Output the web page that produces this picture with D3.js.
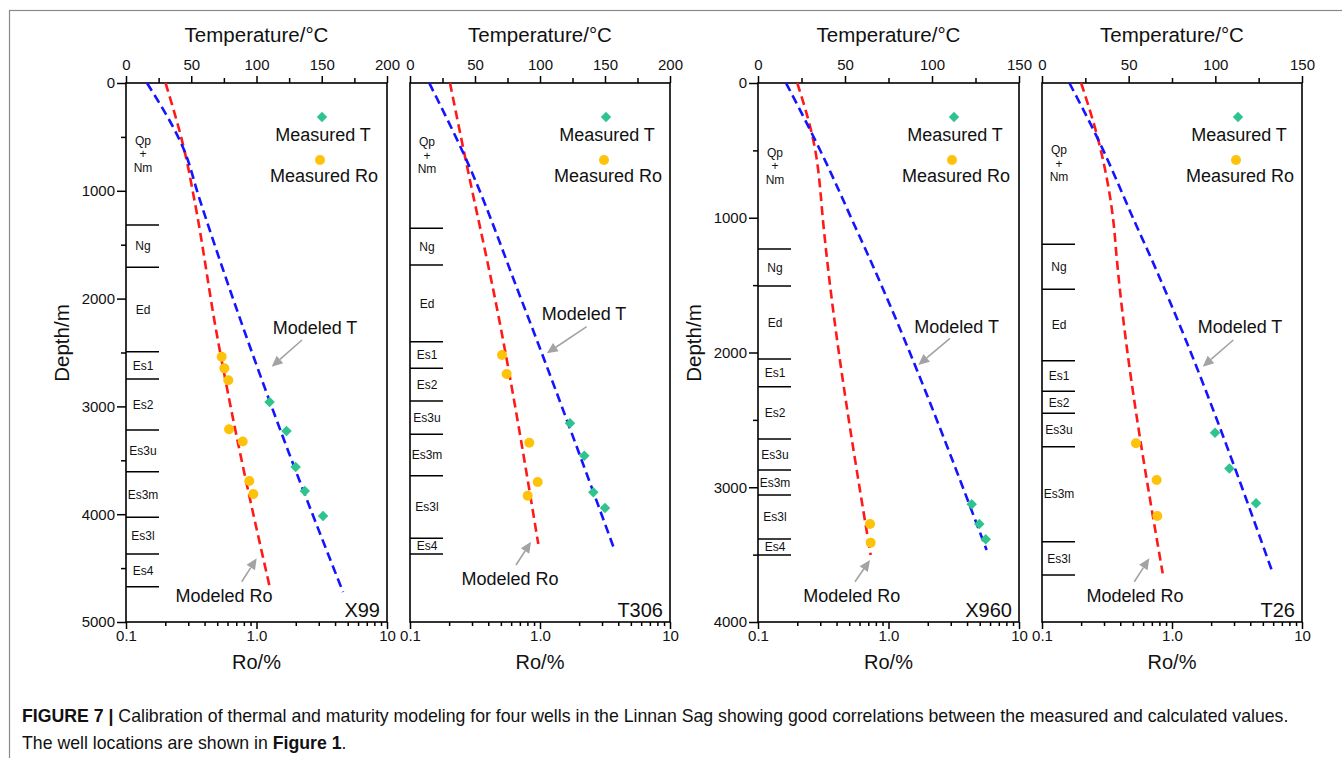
<!DOCTYPE html>
<html>
<head>
<meta charset="utf-8">
<script src="https://cdn.jsdelivr.net/npm/d3@7"></script>
<style>
body { margin: 0; background: #fff; }
text { font-family: "Liberation Sans", Arial, sans-serif; fill: #111; }
</style>
</head>
<body>
<script>
// wells and axis ranges
const wells = ["X99", "T306", "X960", "T26"]
const depthMax = [5000, 5000, 4000, 4000]
const tempMax = [200, 200, 150, 150]
const depthTicks = [
    [0, 1000, 2000, 3000, 4000, 5000],
    [0, 1000, 2000, 3000, 4000, 5000],
    [0, 1000, 2000, 3000, 4000],
    [0, 1000, 2000, 3000, 4000]
]
const tempTicks = [
    [0, 50, 100, 150, 200],
    [0, 50, 100, 150, 200],
    [0, 50, 100, 150],
    [0, 50, 100, 150]
]
const roTicks = [0.1, 1, 10]
const roTickLabels = ["0.1", "1.0", "10"]

// modeled temperature, [depth m, T degC]
const modeledT = [
    [[0, 16.1], [622, 44.5], [1058, 55.9], [2959, 110.3], [4722, 166.3]],
    [[0, 14.8], [684, 42.3], [2027, 86.2], [4317, 156.9]],
    [[0, 16.1], [373, 30.9], [547, 37.5], [1091, 56.7], [1227, 61.5], [3466, 131.4]],
    [[0, 15.8], [398, 31.6], [1091, 55.6], [1227, 60.4], [3614, 132.5]]
]
// modeled vitrinite reflectance, [depth m, Ro %]
const modeledRo = [
    [[0, 0.201], [622, 0.28], [1116, 0.338], [2322, 0.495], [3126, 0.664], [4688, 1.27]],
    [[0, 0.203], [684, 0.265], [2075, 0.464], [4276, 0.97]],
    [[0, 0.2], [373, 0.258], [423, 0.265], [1091, 0.32], [1215, 0.33], [3503, 0.73]],
    [[0, 0.2], [423, 0.271], [1091, 0.36], [1215, 0.369], [3639, 0.848]]
]
// measured data
const measuredT = [
    [[2959, 110], [3228, 123], [3562, 130], [3785, 137], [4017, 151]],
    [[3157, 123.1], [3457, 134.1], [3797, 141], [3942, 150]],
    [[3127, 122.8], [3273, 127.2], [3386, 130.9]],
    [[2595, 99.8], [2860, 108.1], [3119, 123.5]]
]
const measuredRo = [
    [[2539, 0.541], [2647, 0.567], [2758, 0.608], [3212, 0.616], [3326, 0.784], [3692, 0.881], [3813, 0.945]],
    [[2523, 0.51], [2699, 0.554], [3337, 0.827], [3701, 0.96], [3828, 0.804]],
    [[3273, 0.722], [3411, 0.73]],
    [[2674, 0.528], [2946, 0.762], [3213, 0.771]]
]
// stratigraphy, unit names and base depths
const strataNames = [
    ["Qp+Nm", "Ng", "Ed", "Es1", "Es2", "Es3u", "Es3m", "Es3l", "Es4"],
    ["Qp+Nm", "Ng", "Ed", "Es1", "Es2", "Es3u", "Es3m", "Es3l", "Es4"],
    ["Qp+Nm", "Ng", "Ed", "Es1", "Es2", "Es3u", "Es3m", "Es3l", "Es4"],
    ["Qp+Nm", "Ng", "Ed", "Es1", "Es2", "Es3u", "Es3m", "Es3l"]
]
const strataBase = [
    [1317, 1710, 2492, 2746, 3219, 3606, 4029, 4369, 4672],
    [1348, 1688, 2400, 2647, 2950, 3259, 3643, 4224, 4369],
    [1232, 1506, 2048, 2254, 2642, 2872, 3057, 3384, 3503],
    [1197, 1531, 2061, 2288, 2451, 2699, 3404, 3651]
]

// layout
const panelLeft = [126, 410, 758, 1042]
const panelRight = [387, 670, 1019, 1302]
const plotTop = 83, plotBottom = 622
const depthLabelled = [true, false, true, false]
// annotation spots, x relative to panel left
const annot = [
    {tx: 189, ty: 327, a: [176, 340, 145.7, 366.7], rx: 98, ry: 595, b: [115.7, 581.7, 130.7, 558.3]},
    {tx: 174, ty: 313, a: [176.7, 326.7, 136.7, 353.3], rx: 100, ry: 578.3, b: [106, 565, 121, 541.7]},
    {tx: 198.7, ty: 326.7, a: [192, 338.3, 160.3, 365], rx: 93.7, ry: 595.7, b: [97, 581.7, 112, 560]},
    {tx: 198, ty: 326.7, a: [191.3, 340, 160.7, 366.7], rx: 93, ry: 595.7, b: [92.3, 581.7, 107.3, 558.3]}
]

const blue = "#1414ff", red = "#ff1a1a", green = "#2ec48e", gold = "#ffc20a", grey = "#a3a3a3"

const svg = d3.select("body").append("svg")
    .attr("width", 1342)
    .attr("height", 758)

// outer frame of the figure
svg.append("rect")
    .attr("x", 9.5).attr("y", 10.5)
    .attr("width", 1400).attr("height", 800)
    .attr("fill", "none")
    .attr("stroke", "#8a8a8a")
    .attr("stroke-width", 1.2)

function arrow(g, x1, y1, x2, y2) {
    const dx = x2 - x1, dy = y2 - y1
    const len = Math.sqrt(dx * dx + dy * dy)
    const ux = dx / len, uy = dy / len
    const hl = 11, hw = 5
    const bx = x2 - ux * hl, by = y2 - uy * hl
    g.append("line")
        .attr("x1", x1).attr("y1", y1).attr("x2", bx).attr("y2", by)
        .attr("stroke", grey).attr("stroke-width", 1.6)
    g.append("polygon")
        .attr("points", [[x2, y2], [bx - uy * hw, by + ux * hw], [bx + uy * hw, by - ux * hw]].join(" "))
        .attr("fill", grey)
}

function styleAxis(sel) {
    sel.select(".domain").remove()
    sel.selectAll("line").attr("stroke", "#000").attr("stroke-width", 1.5)
    sel.selectAll("text").style("font-size", "15px").attr("fill", "#111")
}

wells.forEach((well, i) => {
    const x0 = panelLeft[i], x1 = panelRight[i]
    const g = svg.append("g")
    const y = d3.scaleLinear().domain([0, depthMax[i]]).range([plotTop, plotBottom])
    const xT = d3.scaleLinear().domain([0, tempMax[i]]).range([x0, x1])
    const xRo = d3.scaleLog().domain([0.1, 10]).range([x0, x1])

    // top temperature axis
    g.append("g").attr("transform", `translate(0,${plotTop})`)
        .call(d3.axisTop(xT).tickValues(tempTicks[i]).tickSize(7).tickPadding(6).tickFormat(d3.format("d")))
        .call(styleAxis)
    g.append("g").attr("transform", `translate(0,${plotTop})`)
        .call(d3.axisTop(xT).tickValues(d3.range(25, tempMax[i], 50)).tickSize(5).tickFormat(""))
        .call(styleAxis)

    // bottom Ro axis (log)
    g.append("g").attr("transform", `translate(0,${plotBottom})`)
        .call(d3.axisBottom(xRo).tickValues(roTicks).tickSize(7).tickPadding(1).tickFormat((d, k) => roTickLabels[k]))
        .call(styleAxis)
    const minorRo = [0.2, 0.3, 0.4, 0.5, 0.6, 0.7, 0.8, 0.9, 2, 3, 4, 5, 6, 7, 8, 9]
    g.append("g").attr("transform", `translate(0,${plotBottom})`)
        .call(d3.axisBottom(xRo).tickValues(minorRo).tickSize(4).tickFormat(""))
        .call(styleAxis)

    // depth axis
    if (depthLabelled[i]) {
        g.append("g").attr("transform", `translate(${x0},0)`)
            .call(d3.axisLeft(y).tickValues(depthTicks[i]).tickSize(9).tickPadding(2).tickFormat(d3.format("d")))
            .call(styleAxis)
        g.append("g").attr("transform", `translate(${x0},0)`)
            .call(d3.axisLeft(y).tickValues(d3.range(500, depthMax[i], 1000)).tickSize(5).tickFormat(""))
            .call(styleAxis)
        g.append("text")
            .attr("transform", `translate(${x0 - 57},343) rotate(-90)`)
            .attr("text-anchor", "middle")
            .style("font-size", "20.5px")
            .text("Depth/m")
    }

    // panel frame
    g.append("rect")
        .attr("x", x0).attr("y", plotTop)
        .attr("width", x1 - x0).attr("height", plotBottom - plotTop)
        .attr("fill", "none")
        .attr("stroke", "#000")
        .attr("stroke-width", 1.6)

    // axis titles
    g.append("text")
        .attr("x", (x0 + x1) / 2).attr("y", 42)
        .attr("text-anchor", "middle")
        .style("font-size", "20.5px")
        .text("Temperature/°C")
    g.append("text")
        .attr("x", (x0 + x1) / 2).attr("y", 669)
        .attr("text-anchor", "middle")
        .style("font-size", "20px")
        .text("Ro/%")

    // strata column
    const bases = strataBase[i]
    g.selectAll(".sline")
        .data(bases)
        .enter()
        .append("line")
        .attr("x1", x0).attr("x2", x0 + 33)
        .attr("y1", d => y(d)).attr("y2", d => y(d))
        .attr("stroke", "#000").attr("stroke-width", 1.5)
    strataNames[i].forEach((name, k) => {
        const mid = (y(k == 0 ? 0 : bases[k - 1]) + y(bases[k])) / 2
        const parts = name == "Qp+Nm" ? ["Qp", "+", "Nm"] : [name]
        parts.forEach((p, j) => {
            g.append("text")
                .attr("x", x0 + 17)
                .attr("y", mid + (j - (parts.length - 1) / 2) * 13.5 + 4.3)
                .attr("text-anchor", "middle")
                .style("font-size", "12px")
                .text(p)
        })
    })

    // modeled curves
    const lineT = d3.line().curve(d3.curveMonotoneY).x(d => xT(d[1])).y(d => y(d[0]))
    const lineRo = d3.line().curve(d3.curveMonotoneY).x(d => xRo(d[1])).y(d => y(d[0]))
    g.append("path")
        .attr("d", lineRo(modeledRo[i]))
        .attr("fill", "none").attr("stroke", red)
        .attr("stroke-width", 2.6).attr("stroke-dasharray", "9,5")
    g.append("path")
        .attr("d", lineT(modeledT[i]))
        .attr("fill", "none").attr("stroke", blue)
        .attr("stroke-width", 2.6).attr("stroke-dasharray", "9,5")

    // measured points
    g.selectAll(".ro")
        .data(measuredRo[i])
        .enter()
        .append("circle")
        .attr("cx", d => xRo(d[1])).attr("cy", d => y(d[0]))
        .attr("r", 5)
        .attr("fill", gold)
    g.selectAll(".tm")
        .data(measuredT[i])
        .enter()
        .append("path")
        .attr("d", d3.symbol(d3.symbolDiamond2, 70))
        .attr("transform", d => `translate(${xT(d[1])},${y(d[0])})`)
        .attr("fill", green)

    // legend
    g.append("path")
        .attr("d", d3.symbol(d3.symbolDiamond2, 70))
        .attr("transform", `translate(${x0 + 196},117)`)
        .attr("fill", green)
    g.append("text")
        .attr("x", x0 + 197).attr("y", 141)
        .attr("text-anchor", "middle")
        .style("font-size", "18px")
        .text("Measured T")
    g.append("circle")
        .attr("cx", x0 + 194).attr("cy", 160).attr("r", 5)
        .attr("fill", gold)
    g.append("text")
        .attr("x", x0 + 198).attr("y", 182)
        .attr("text-anchor", "middle")
        .style("font-size", "18px")
        .text("Measured Ro")

    // annotations
    const an = annot[i]
    g.append("text")
        .attr("x", x0 + an.tx).attr("y", an.ty + 6.5)
        .attr("text-anchor", "middle")
        .style("font-size", "18px")
        .text("Modeled T")
    arrow(g, x0 + an.a[0], an.a[1], x0 + an.a[2], an.a[3])
    g.append("text")
        .attr("x", x0 + an.rx).attr("y", an.ry + 6.5)
        .attr("text-anchor", "middle")
        .style("font-size", "18px")
        .text("Modeled Ro")
    arrow(g, x0 + an.b[0], an.b[1], x0 + an.b[2], an.b[3])

    // well name
    g.append("text")
        .attr("x", x1 - 7).attr("y", 617)
        .attr("text-anchor", "end")
        .style("font-size", "20px")
        .text(well)
})

// caption
const cap = svg.append("text").attr("x", 22).attr("y", 722).style("font-size", "17.7px").attr("fill", "#1a1a1a")
cap.append("tspan").style("font-weight", "bold").text("FIGURE 7 | ")
cap.append("tspan").text("Calibration of thermal and maturity modeling for four wells in the Linnan Sag showing good correlations between the measured and calculated values.")
const cap2 = svg.append("text").attr("x", 22).attr("y", 749).style("font-size", "17.7px").attr("fill", "#1a1a1a")
cap2.append("tspan").text("The well locations are shown in ")
cap2.append("tspan").style("font-weight", "bold").text("Figure 1")
cap2.append("tspan").text(".")
</script>
</body>
</html>
